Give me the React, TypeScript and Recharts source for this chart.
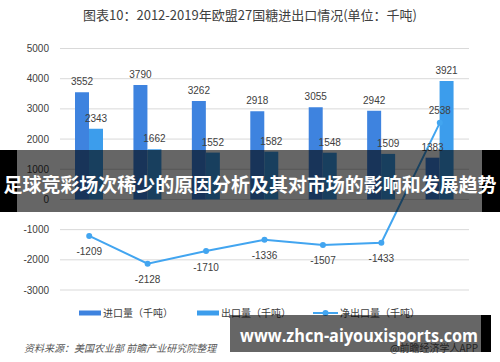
import React from "react";
import { Bar, CartesianGrid, ComposedChart, LabelList, Line, XAxis, YAxis } from "recharts";

const years = ["2012年", "2013年", "2014年", "2015年", "2016年", "2017年", "2018年"];
const importVol = [3552, 3790, 3262, 2918, 3055, 2942, 1383];
const exportVol = [2343, 1662, 1552, 1582, 1548, 1509, 3921];
const netExport = [-1209, -2128, -1710, -1336, -1507, -1433, 2538];
const yTicks = [-3000, -2000, -1000, 0, 1000, 2000, 3000, 4000, 5000];

const data = years.map((year, i) => ({
  year,
  imp: importVol[i],
  exp: exportVol[i],
  net: netExport[i],
}));

const W = 500;
const H = 362;
const MARGIN = { top: 48.5, right: 31, bottom: 72, left: 0 };
const Y_MIN = yTicks[0];
const Y_MAX = yTicks[yTicks.length - 1];
const PLOT_H = H - MARGIN.top - MARGIN.bottom;
// the year labels sit under the zero line, not at the bottom of the plot
const ZERO_Y = MARGIN.top + (PLOT_H * Y_MAX) / (Y_MAX - Y_MIN);

const IMPORT = "#3e83df";
const EXPORT = "#3c9dec";
const NET = "#42a5f0";
const TEXT = "#404040";
const NUM_FONT = "'Liberation Sans', Arial, sans-serif";
const CJK_FONT = "'Noto Sans CJK SC', 'Noto Sans', sans-serif";

function YearTick({ x, payload }: any) {
  return (
    <text x={x} y={ZERO_Y + 18} textAnchor="middle" fontSize={10} fill={TEXT} fontFamily={NUM_FONT}>
      {payload.value}
    </text>
  );
}

function NetLabel(p: any) {
  const vb = p.viewBox ?? {};
  const x = p.x ?? vb.x;
  const y = p.y ?? vb.y;
  if (x == null || y == null) return null;
  const below = Number(p.value) < 0;
  return (
    <text x={x} y={below ? y + 19.5 : y - 8.5} textAnchor="middle" fontSize={10} fill={TEXT} fontFamily={NUM_FONT}>
      {p.value}
    </text>
  );
}

function ChartLegend() {
  const items = [
    { x: 79, label: "进口量（千吨）", color: IMPORT, kind: "rect" },
    { x: 197, label: "出口量（千吨）", color: EXPORT, kind: "rect" },
    { x: 313, label: "净出口量（千吨）", color: NET, kind: "line" },
  ];
  return (
    <svg width={W} height={20} style={{ position: "absolute", left: 0, top: 303 }}>
      {items.map((it) => (
        <g key={it.label}>
          {it.kind === "rect" ? (
            <rect x={it.x} y={7.5} width={22} height={5} fill={it.color} />
          ) : (
            <>
              <line x1={it.x} x2={it.x + 25} y1={10} y2={10} stroke={it.color} strokeWidth={2} />
              <circle cx={it.x + 12.5} cy={10} r={3} fill={it.color} />
            </>
          )}
          <text x={it.x + (it.kind === "rect" ? 24 : 27)} y={13.8} fontSize={10} fill={TEXT} fontFamily={CJK_FONT}>
            {it.label}
          </text>
        </g>
      ))}
    </svg>
  );
}

export default function App() {
  return (
    <div style={{ position: "absolute", left: 0, top: 0, width: W, height: H, background: "#fff", overflow: "hidden" }}>
      <div
        style={{
          position: "absolute",
          top: 5,
          left: 0,
          width: W,
          textAlign: "center",
          fontFamily: CJK_FONT,
          fontSize: 13,
          color: TEXT,
          lineHeight: "20px",
        }}
      >
        图表10：2012-2019年欧盟27国糖进出口情况(单位：千吨)
      </div>

      <ComposedChart width={W} height={H} data={data} margin={MARGIN} barGap={0} style={{ position: "absolute", left: 0, top: 0 }}>
        <CartesianGrid vertical={false} stroke="#d9d9d9" />
        <XAxis dataKey="year" height={0} axisLine={false} tickLine={false} tick={<YearTick />} interval={0} />
        <YAxis
          width={60}
          domain={[Y_MIN, Y_MAX]}
          ticks={yTicks}
          interval={0}
          axisLine={false}
          tickLine={false}
          tickMargin={5}
          tick={{ fontSize: 10, fill: TEXT, fontFamily: NUM_FONT }}
        />
        <Bar dataKey="imp" name="进口量（千吨）" fill={IMPORT} barSize={14} isAnimationActive={false}>
          <LabelList dataKey="imp" position="top" offset={7} fontSize={10} fill={TEXT} fontFamily={NUM_FONT} />
        </Bar>
        <Bar dataKey="exp" name="出口量（千吨）" fill={EXPORT} barSize={14} isAnimationActive={false}>
          <LabelList dataKey="exp" position="top" offset={7} fontSize={10} fill={TEXT} fontFamily={NUM_FONT} />
        </Bar>
        <Line
          dataKey="net"
          name="净出口量（千吨）"
          stroke={NET}
          strokeWidth={2}
          dot={{ r: 3, fill: NET, stroke: "none" }}
          isAnimationActive={false}
        >
          <LabelList dataKey="net" content={<NetLabel />} />
        </Line>
      </ComposedChart>

      <ChartLegend />

      <div
        style={{
          position: "absolute",
          left: 24,
          top: 340,
          fontFamily: CJK_FONT,
          fontSize: 10,
          fontStyle: "italic",
          color: "#595959",
          whiteSpace: "nowrap",
        }}
      >
        资料来源：美国农业部 前瞻产业研究院整理
      </div>
      <div
        style={{
          position: "absolute",
          left: 390,
          top: 340,
          fontFamily: CJK_FONT,
          fontSize: 10,
          color: "#595959",
          whiteSpace: "nowrap",
        }}
      >
        @前瞻经济学人APP
      </div>

      <svg width={W} height={H} style={{ position: "absolute", left: 0, top: 0, pointerEvents: "none" }}>
        <rect x={0} y={150} width={W} height={62} fill="rgba(0,0,0,0.6)" />
        <rect x={0} y={150} width={17} height={62} fill="#000" />
        <rect x={482} y={150} width={18} height={62} fill="#000" />
        <text
          x={3.5}
          y={192}
          textLength={493}
          lengthAdjust="spacingAndGlyphs"
          fontSize={19}
          fontWeight={700}
          fill="#fff"
          fontFamily={CJK_FONT}
        >
          足球竞彩场次稀少的原因分析及其对市场的影响和发展趋势
        </text>

        <rect x={230} y={315} width={251} height={37} fill="rgba(0,0,0,0.6)" />
        <rect x={481} y={315} width={10} height={37} fill="#000" />
        <text
          x={240}
          y={342}
          textLength={238}
          lengthAdjust="spacingAndGlyphs"
          fontSize={18}
          fontWeight={700}
          fill="#fff"
          fontFamily="'Open Sans', 'Noto Sans', sans-serif"
        >
          www.zhcn-aiyouxisports.com
        </text>
      </svg>
    </div>
  );
}
